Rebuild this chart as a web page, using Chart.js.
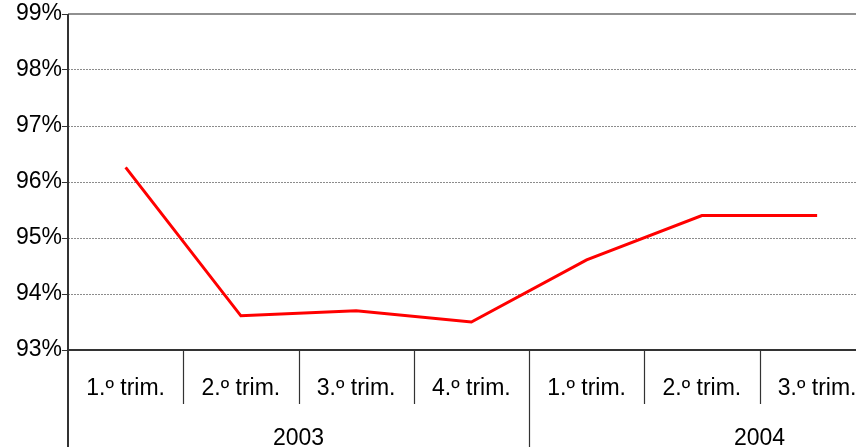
<!doctype html>
<html lang="es">
  <head>
    <meta charset="utf-8">
    <title>Evolución trimestral</title>
    <script src="https://cdn.jsdelivr.net/npm/chart.js"></script>
    <style>
      html, body {
        margin: 0;
        padding: 0;
        background: #fff;
        overflow: hidden;
      }
      /* the chart is wider than the window and cropped on the right */
      #wrap {
        width: 856px;
        height: 447px;
        overflow: hidden;
      }
    </style>
  </head>
  <body>
    <div id="wrap">
      <canvas id="chart" width="1000" height="447"></canvas>
    </div>

    <script>
      // Data
      const quarters = ['1.º trim.', '2.º trim.', '3.º trim.', '4.º trim.', '1.º trim.', '2.º trim.', '3.º trim.', '4.º trim.'];
      const years = ['2003', '2003', '2003', '2003', '2004', '2004', '2004', '2004'];
      const values = [96.26, 93.61, 93.70, 93.50, 94.61, 95.40, 95.40, null];
      const yMin = 93;
      const yMax = 99;

      const FONT = 'Liberation Sans, Arial, sans-serif';

      // Draws the frame and the two-level category axis (quarters / years)
      const axisPlugin = {
        id: 'axisLabels',
        afterDraw(chart) {
          const ctx = chart.ctx;
          const area = chart.chartArea;
          const x = chart.scales.x;
          const n = quarters.length;
          const half = (x.getPixelForValue(1) - x.getPixelForValue(0)) / 2;
          const visibleRight = document.getElementById('wrap').clientWidth;

          ctx.save();

          // top border
          ctx.strokeStyle = '#909090';
          ctx.lineWidth = 2;
          ctx.beginPath();
          ctx.moveTo(area.left, area.top);
          ctx.lineTo(area.right, area.top);
          ctx.stroke();

          // axes
          ctx.strokeStyle = '#333';
          ctx.lineWidth = 2;
          ctx.beginPath();
          ctx.moveTo(area.left, area.top);
          ctx.lineTo(area.left, chart.height);
          ctx.moveTo(area.left, area.bottom);
          ctx.lineTo(area.right, area.bottom);
          ctx.stroke();

          // separators between categories
          ctx.lineWidth = 1.2;
          ctx.beginPath();
          for (let i = 1; i < n; i++) {
            const bx = Math.round(x.getPixelForValue(i) - half) + 0.5;
            const end = years[i] !== years[i - 1] ? chart.height : area.bottom + 54;
            ctx.moveTo(bx, area.bottom);
            ctx.lineTo(bx, end);
          }
          ctx.stroke();

          // quarter labels (only those inside the visible window)
          ctx.fillStyle = '#000';
          ctx.font = '23px ' + FONT;
          ctx.textAlign = 'center';
          ctx.textBaseline = 'alphabetic';
          for (let i = 0; i < n; i++) {
            const cx = x.getPixelForValue(i);
            if (cx > visibleRight) continue;
            ctx.fillText(quarters[i], cx, area.bottom + 45);
          }

          // year labels, centred under their group of quarters
          let start = 0;
          for (let i = 1; i <= n; i++) {
            if (i === n || years[i] !== years[start]) {
              const left = x.getPixelForValue(start) - half;
              const right = x.getPixelForValue(i - 1) + half;
              ctx.fillText(years[start], (left + right) / 2, area.bottom + 95);
              start = i;
            }
          }

          ctx.restore();
        }
      };

      new Chart(document.getElementById('chart'), {
        type: 'line',
        data: {
          labels: quarters,
          datasets: [{
            data: values,
            borderColor: '#ff0000',
            borderWidth: 3,
            pointRadius: 0,
            tension: 0,
            fill: false
          }]
        },
        options: {
          responsive: false,
          animation: false,
          devicePixelRatio: 1,
          layout: {
            padding: { top: 14, right: 10, left: 0, bottom: 0 }
          },
          plugins: {
            legend: { display: false },
            tooltip: { enabled: false }
          },
          scales: {
            x: {
              type: 'category',
              offset: true,
              grid: { display: false },
              border: { display: false },
              ticks: { display: false },
              afterFit(scale) {
                scale.height = 97;
              }
            },
            y: {
              min: yMin,
              max: yMax,
              ticks: {
                stepSize: 1,
                padding: 0,
                color: '#000',
                font: { family: FONT, size: 23 },
                callback: (v) => v + '%'
              },
              grid: {
                color: '#8c8c8c',
                lineWidth: 1,
                tickLength: 6,
                tickColor: '#333',
                tickWidth: 1
              },
              border: { display: false, dash: [2, 1] },
              afterFit(scale) {
                scale.width = 68;
              }
            }
          }
        },
        plugins: [axisPlugin]
      });
    </script>
  </body>
</html>
